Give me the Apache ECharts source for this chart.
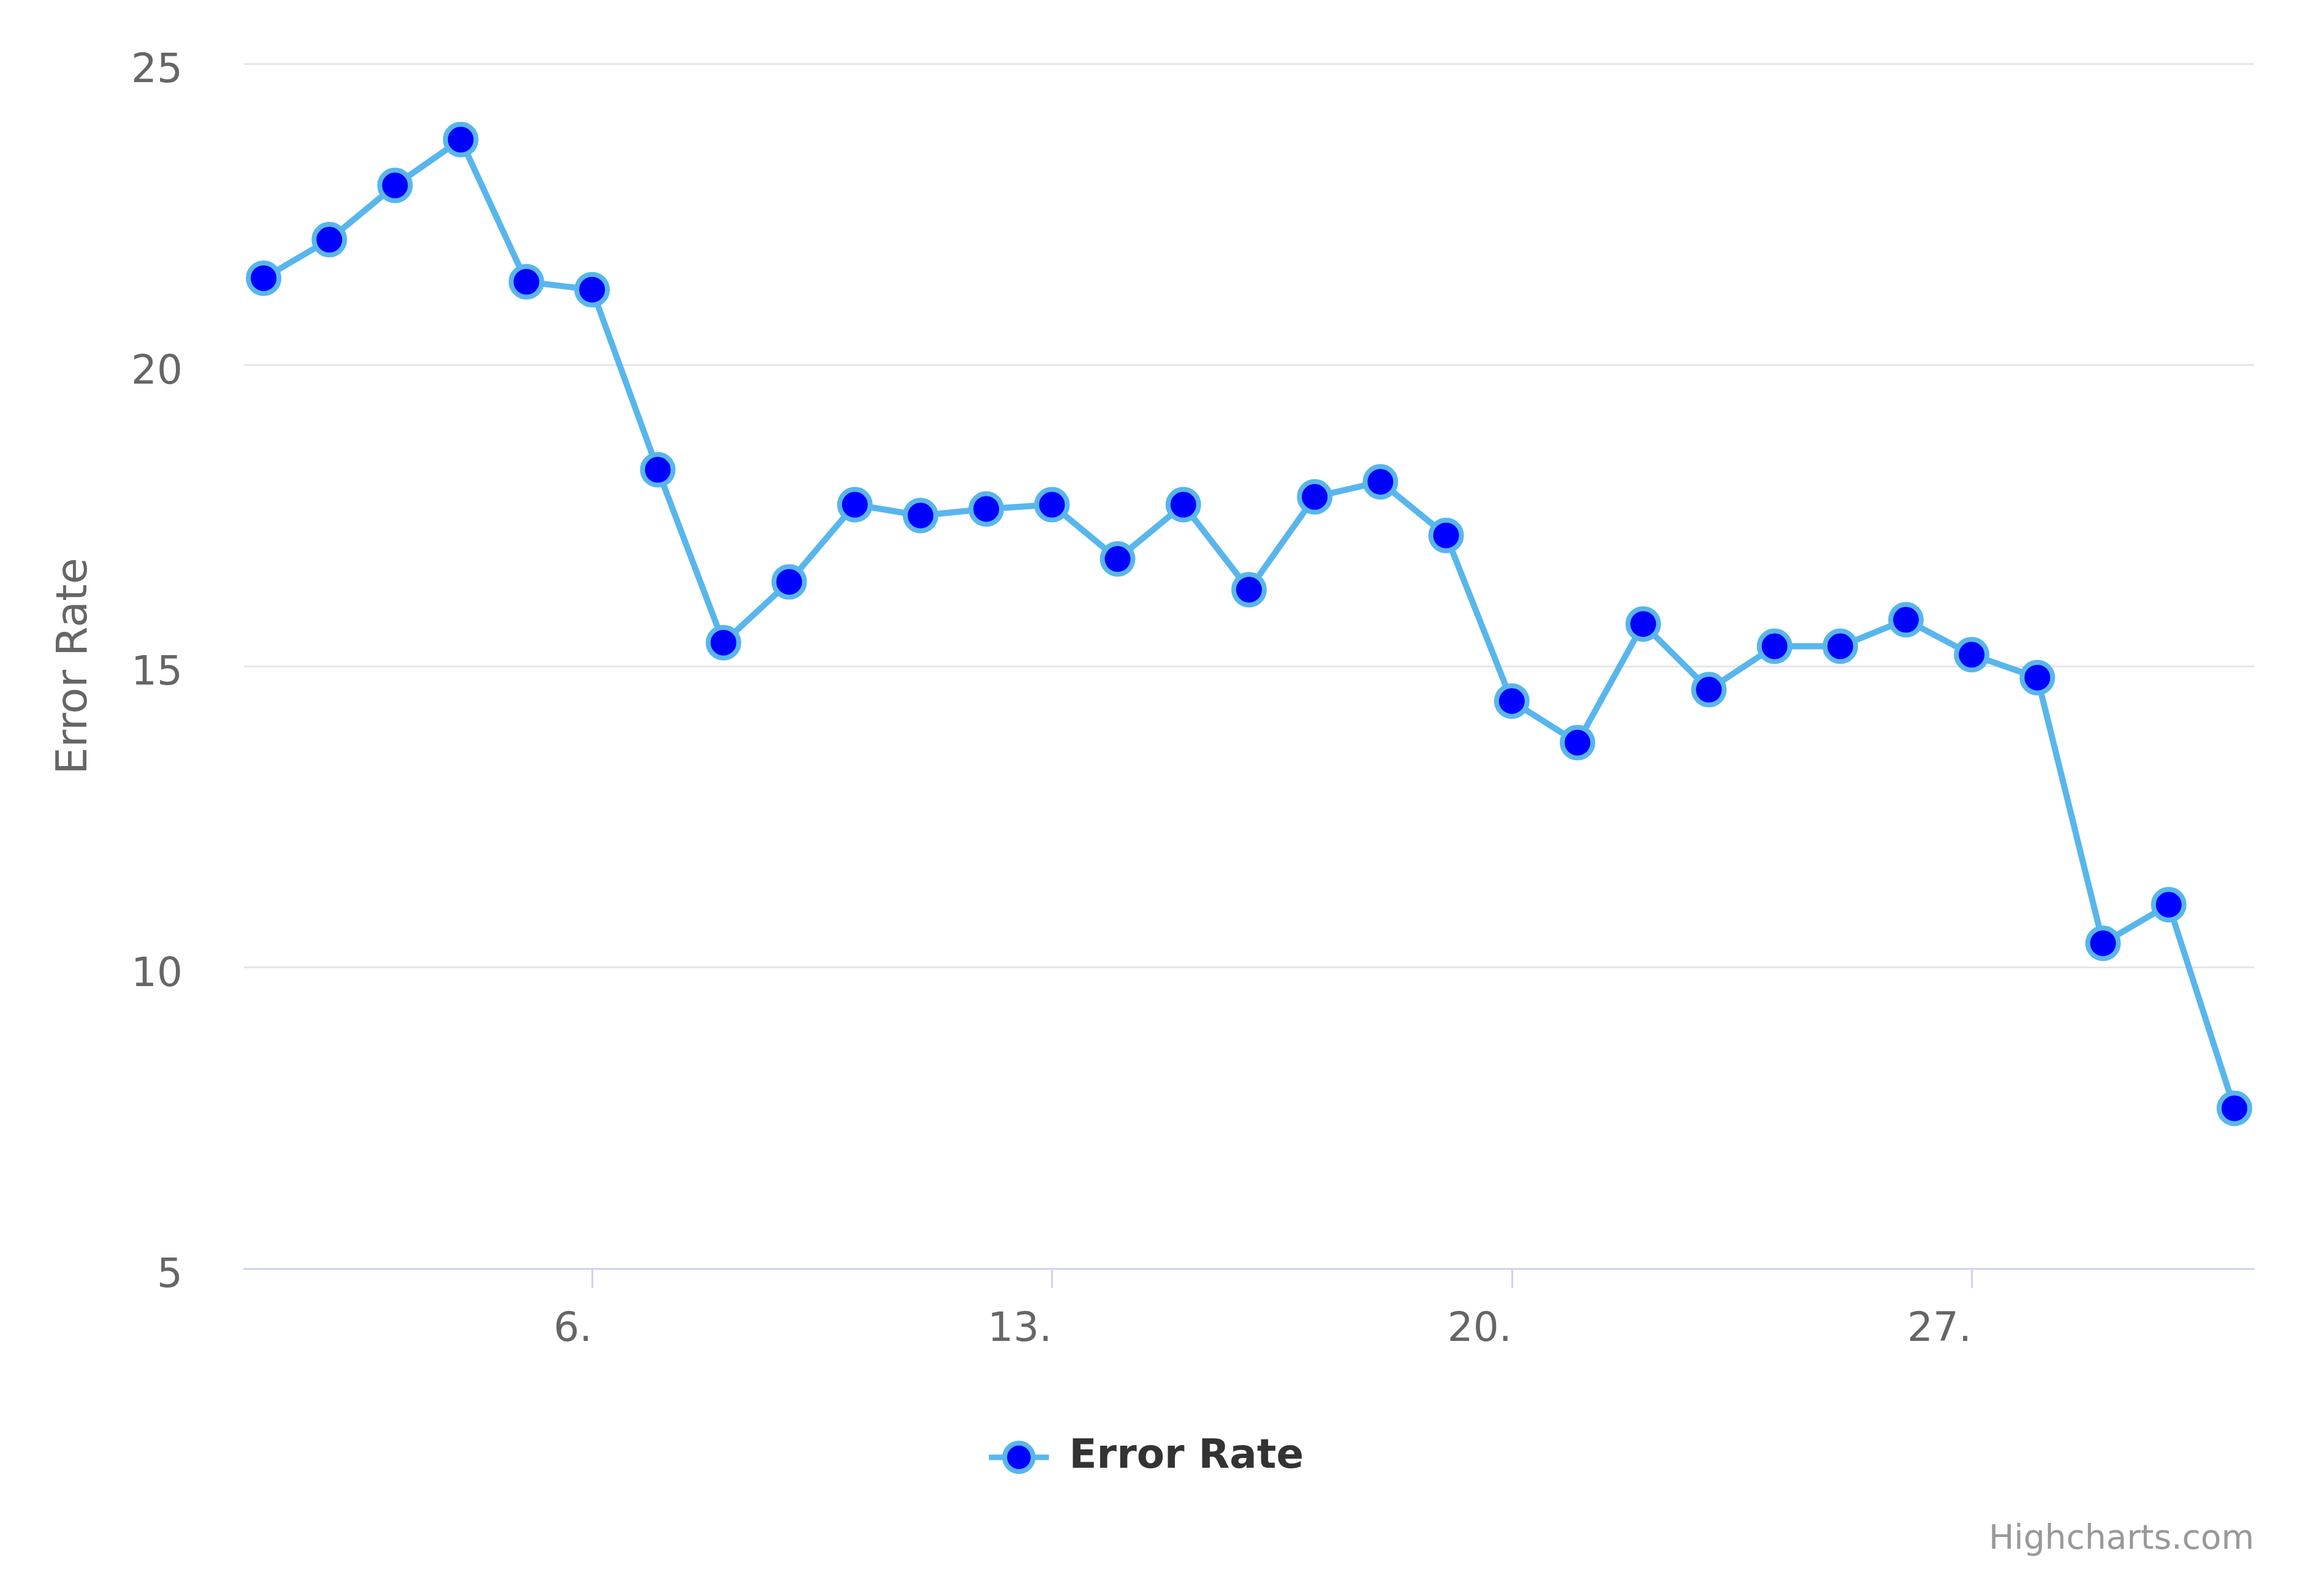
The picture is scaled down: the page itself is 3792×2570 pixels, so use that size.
<!DOCTYPE html>
<html>
<head>
<meta charset="utf-8">
<script src="https://cdn.jsdelivr.net/npm/echarts@6/dist/echarts.min.js"></script>
<style>
html,body{margin:0;padding:0;background:#fff;}
#chart{width:3792px;height:2570px;}
</style>
</head>
<body>
<div id="chart"></div>
<script>
const days = [1,2,3,4,5,6,7,8,9,10,11,12,13,14,15,16,17,18,19,20,21,22,23,24,25,26,27,28,29,30,31];
const errorRate = [21.44,22.08,22.98,23.74,21.38,21.25,18.26,15.39,16.40,17.68,17.50,17.61,17.68,16.78,17.68,16.27,17.81,18.06,17.17,14.42,13.73,15.70,14.61,15.33,15.33,15.77,15.19,14.81,10.40,11.04,7.66];
const xTicks = [6,13,20,27];
const yTicks = [5,10,15,20,25];
const seriesName = 'Error Rate';

const FONT = "'Lucida Grande','DejaVu Sans',sans-serif";
const LINE_COLOR = '#58b6ed';
const chart = echarts.init(document.getElementById('chart'), null, {renderer:'canvas'});
chart.setOption({
  animation:false,
  backgroundColor:'#ffffff',
  grid:{left:398,right:114,top:104,bottom:500,containLabel:false},
  xAxis:{
    type:'value',
    min:0.7,max:31.3,
    axisLine:{show:true,lineStyle:{color:'#ccd6eb',width:3}},
    axisTick:{show:true,length:32,lineStyle:{color:'#ccd6eb',width:3},customValues:xTicks},
    axisLabel:{show:true,customValues:xTicks,formatter:v=>v+'.',align:'right',margin:68,color:'#666666',fontSize:66,fontFamily:FONT},
    splitLine:{show:false}
  },
  yAxis:{
    type:'value',
    min:yTicks[0],max:yTicks[yTicks.length-1],interval:5,
    name:'Error Rate',nameLocation:'middle',nameGap:240,
    nameTextStyle:{color:'#666666',fontSize:70,fontFamily:FONT},
    axisLine:{show:false},axisTick:{show:false},
    axisLabel:{
      color:'#666666',fontSize:66,fontFamily:FONT,margin:100,
      formatter:v=>'{a|'+v+'}',
      rich:{a:{color:'#666666',fontSize:66,fontFamily:FONT,padding:[26,0,0,0]}}
    },
    splitLine:{lineStyle:{color:'#e6e6e6',width:3}}
  },
  legend:{
    show:true,left:1604,top:2340,itemWidth:98,itemHeight:58,
    lineStyle:{width:9,color:LINE_COLOR},
    itemStyle:{color:'#0000ff',borderColor:LINE_COLOR,borderWidth:8},
    textStyle:{color:'#333333',fontSize:66,fontWeight:'bold',fontFamily:FONT,padding:[0,0,0,28]},
    data:[seriesName]
  },
  graphic:[{
    type:'text',right:114,top:2485,
    style:{text:'Highcharts.com',fill:'#999999',fontSize:55,fontFamily:FONT}
  }],
  series:[{
    name:seriesName,type:'line',
    data:days.map((d,i)=>[d,errorRate[i]]),
    lineStyle:{color:LINE_COLOR,width:10},
    symbol:'circle',symbolSize:50,
    itemStyle:{color:'#0000ff',borderColor:LINE_COLOR,borderWidth:8}
  }]
});
</script>
</body>
</html>
